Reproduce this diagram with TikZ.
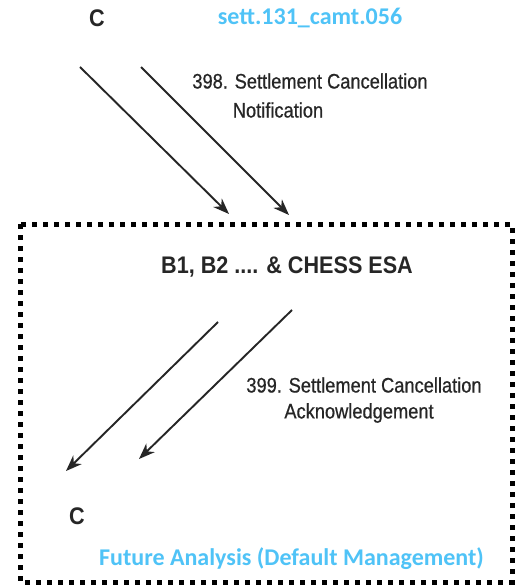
\documentclass[tikz,border=0pt]{standalone}
\usepackage{fontspec}
\setmainfont{Liberation Sans}
\newfontfamily\condfont[FakeStretch=0.87,FakeBold=0.6]{Liberation Sans}
\newfontfamily\partyfont[FakeStretch=0.9]{Liberation Sans}
\newfontfamily\calfont{Carlito}
\usetikzlibrary{arrows.meta}
\definecolor{inkgray}{HTML}{262626}
\definecolor{skyblue}{HTML}{4FC3F7}
\begin{document}
\begin{tikzpicture}[x=1pt,y=-1pt,
  party/.style={font=\partyfont\bfseries\fontsize{24}{26}\selectfont, text=inkgray, inner sep=0pt},
  msglabel/.style={font=\condfont\fontsize{21}{28}\selectfont, text=inkgray, inner sep=0pt},
  note/.style={font=\calfont\bfseries\fontsize{24}{26}\selectfont, text=skyblue, inner sep=0pt},
  msg/.style={line width=1.9pt, draw=inkgray, -{Stealth[length=16pt,width=12pt,inset=5pt]}},
  boundary/.style={draw=black, line width=5pt, dash pattern=on 5pt off 6pt}]
\useasboundingbox (0,0) rectangle (519,588);
\fill[white] (0,0) rectangle (519,588);

% dotted boundary of the settlement participants
\draw[boundary] (20,224) rectangle (512,582);

% parties
\node[party] (ctop) at (97,18) {C};
\node[party] (esa) at (287,267) {B1, B2 .... \& CHESS ESA};
\node[party] (cbot) at (77,516) {C};

% coloured annotations
\node[note] (code) at (310,18) {sett.131\_camt.056};
\node[note, anchor=east] (future) at (484,559) {Future Analysis (Default Management)};

% message labels
\node[msglabel] (lbl398) at (310,81) {398. Settlement Cancellation};
\node[msglabel] (lbl398b) at (278,110) {Notification};
\node[msglabel] (lbl399) at (364,385) {399. Settlement Cancellation};
\node[msglabel] (lbl399b) at (359,413) {Acknowledgement};

% end points of the message arrows
\coordinate (n1s) at (80,67);  \coordinate (n1e) at (229,214);
\coordinate (n2s) at (141,67); \coordinate (n2e) at (289,215);
\coordinate (a1s) at (218,322); \coordinate (a1e) at (66,471);
\coordinate (a2s) at (292,310); \coordinate (a2e) at (139,459);

\draw[msg] (n1s) -- (n1e);
\draw[msg] (n2s) -- (n2e);
\draw[msg] (a1s) -- (a1e);
\draw[msg] (a2s) -- (a2e);
\end{tikzpicture}
\end{document}
